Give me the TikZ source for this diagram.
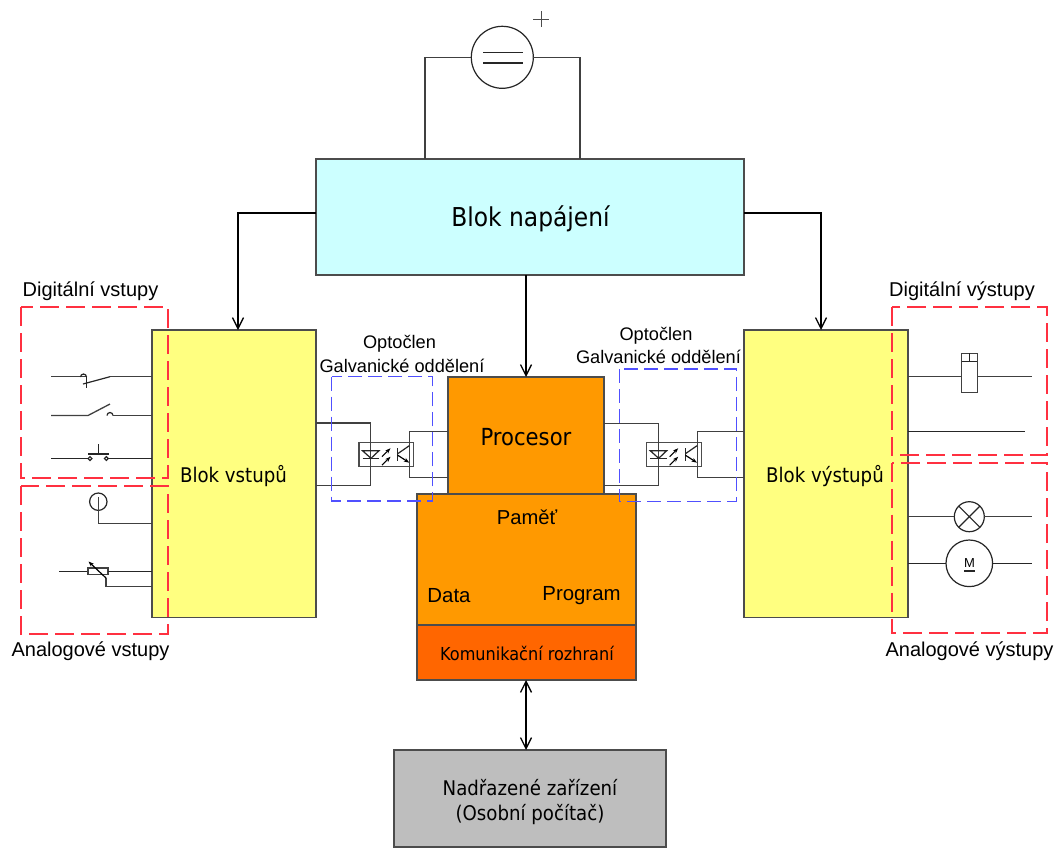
\documentclass[tikz,border=0pt]{standalone}
\usepackage{fontspec}
\setmainfont{Liberation Sans}
\newfontfamily\cond{DejaVu Sans Condensed}
\usetikzlibrary{arrows.meta}
\definecolor{cyanb}{HTML}{CCFFFF}
\definecolor{yelb}{HTML}{FFFF80}
\definecolor{orb}{HTML}{FF9900}
\definecolor{dorb}{HTML}{FF6600}
\definecolor{grb}{HTML}{BEBEBE}
\definecolor{redd}{HTML}{FF3040}
\definecolor{blued}{HTML}{5050FF}
\tikzset{
  x=1pt,y=-1pt,
  wire/.style={draw=black!75,line width=1.3pt},
  thinw/.style={draw=black!85,line width=1.2pt},
  block/.style={draw=black!70,line width=1.4pt,anchor=north west,inner sep=0pt,outer sep=0pt},
  flow/.style={draw=black,line width=1.3pt,-{Straight Barb[length=11pt,width=11pt]}},
  flowb/.style={draw=black,line width=1.3pt,{Straight Barb[length=11pt,width=11pt]}-{Straight Barb[length=11pt,width=11pt]}},
  reddash/.style={draw=redd,line width=1.7pt,dash pattern=on 19pt off 7pt},
  bluedash/.style={draw=blued,line width=1.4pt,dash pattern=on 14pt off 6pt},
  lab/.style={font=\fontsize{20}{24}\selectfont,align=center,inner sep=0pt},
  optolab/.style={font=\fontsize{18.2}{22}\selectfont,inner sep=0pt},
  big/.style={font=\cond\fontsize{26}{32}\selectfont,align=center,inner sep=0pt},
  mid/.style={font=\cond\fontsize{20.2}{26}\selectfont,align=center,inner sep=0pt},
  opto/.style={draw=black!70,line width=1.3pt,anchor=north west,inner sep=0pt,outer sep=0pt,minimum width=54.5pt,minimum height=23.6pt,fill=white},
  tip/.style={-{Stealth[length=5.5pt,width=4pt]},line width=1.1pt},
}
\newcommand{\optosym}[2]{%
  \begin{scope}[shift={(#1,#2)}]
    \draw[thinw] (3.5,8) -- (20,8) -- (12,15.6) -- cycle;
    \draw[thinw] (3.5,15.6) -- (20,15.6);
    \draw[tip] (23,14) -- (31.5,5.5);
    \draw[tip] (23,22.5) -- (31.5,14);
    \draw[line width=1.4pt,black!85] (38.7,5.5) -- (38.7,18);
    \draw[line width=1.2pt,black!85] (38.7,11) -- (50.3,3);
    \draw[tip,line width=1.2pt] (38.7,12.5) -- (50.3,20);
  \end{scope}}
\begin{document}
\begin{tikzpicture}
\useasboundingbox (0,0) rectangle (1056,847);
\fill[white] (0,0) rectangle (1056,847);

% supply
\coordinate (batL) at (425,57.3);
\coordinate (batR) at (580,57.3);
\node[block,fill=cyanb,minimum width=428pt,minimum height=116pt] (nap) at (316,159) {};
\node[big] (naptxt) at (530.5,219) {Blok napájení};
\node[draw=black!85,line width=1.2pt,circle,minimum size=62pt,inner sep=0pt,outer sep=0pt,fill=white] (bat) at (502.3,57.3) {};
\draw[wire] (bat.west) -- (batL) -- (batL |- nap.north);
\draw[wire] (bat.east) -- (batR) -- (batR |- nap.north);
\draw[thinw] (483,52.3) -- (523,52.3) (483,63) -- (523,63);
\draw[draw=black!70,line width=1pt] (533.3,19) -- (549.3,19) (541.3,11) -- (541.3,27);

% blocks
\node[block,fill=yelb,minimum width=164pt,minimum height=287.5pt] (vst) at (152,330) {};
\node[mid] (vsttxt) at (233.5,476) {Blok vstupů};
\node[block,fill=yelb,minimum width=164pt,minimum height=287.5pt] (vys) at (744,330) {};
\node[mid] (vystxt) at (825,476) {Blok výstupů};
\node[block,fill=orb,minimum width=156pt,minimum height=117pt] (proc) at (448,377) {};
\node[font=\cond\fontsize{23.5}{28}\selectfont,inner sep=0pt] (proctxt) at (526,437) {Procesor};
\node[block,fill=orb,minimum width=219pt,minimum height=131pt] (pam) at (417,494) {};
\node[lab,font=\fontsize{20.2}{24}\selectfont] (pamtxt) at (527,517) {Paměť};
\node[lab,font=\fontsize{20.4}{24}\selectfont] (datatxt) at (449,595.5) {Data};
\node[lab,font=\fontsize{20.4}{24}\selectfont] (progtxt) at (581.5,596) {Program};
\node[block,fill=dorb,minimum width=219pt,minimum height=55pt] (kom) at (417,625) {};
\node[font=\cond\fontsize{17.9}{21}\selectfont,inner sep=0pt] (komtxt) at (527,653.5) {Komunikační rozhraní};
\node[block,fill=grb,minimum width=272pt,minimum height=97pt] (nad) at (394,750) {};
\node[big,font=\cond\fontsize{20.2}{25}\selectfont] (nadtxt) at (530,802) {Nadřazené zařízení\\(Osobní počítač)};

% arrows
\coordinate (vstin) at (238,213);
\coordinate (vysin) at (821,213);
\coordinate (procin) at (526,377);
\coordinate (bus) at (526,700);
\draw[flow] (vstin -| nap.west) -- (vstin) -- (vstin |- vst.north);
\draw[flow] (vysin -| nap.east) -- (vysin) -- (vysin |- vys.north);
\draw[flow] (procin |- nap.south) -- (procin);
\draw[flowb] (bus |- kom.south) -- (bus |- nad.north);

% optocoupler left
\node[opto] (ol) at (359,442.7) {};
\coordinate (a1) at (370.5,423); \coordinate (a2) at (370.5,485.5);
\coordinate (b1) at (409.3,431.3); \coordinate (b2) at (409.3,477.7);
\draw[wire] (a1 -| vst.east) -- (a1) -- (a2) -- (a2 -| vst.east);
\draw[wire] (b1 -| proc.west) -- (b1) -- (b2) -- (b2 -| proc.west);
\optosym{359}{442.7}
% optocoupler right
\node[opto] (or) at (646.7,442.7) {};
\coordinate (c1) at (658.5,423.3); \coordinate (c2) at (658.5,485.3);
\coordinate (d1) at (697.3,431.3); \coordinate (d2) at (697.3,477.7);
\draw[wire] (c1 -| proc.east) -- (c1) -- (c2) -- (c2 -| proc.east);
\draw[wire] (d1 -| vys.west) -- (d1) -- (d2) -- (d2 -| vys.west);
\optosym{646.7}{442.7}

% digital inputs
\coordinate (s1) at (51,376.7);
\draw[wire] (s1) -- (87,376.7);
\draw[wire] (110,376.7) -- (110,376.7 -| vst.west);
\draw[thinw] (83,384) -- (110,376.7);
\draw[thinw] (86.5,377) -- (86.5,388);
\draw[thinw] (80.5,377) arc[start angle=180,end angle=360,radius=3] ;
\draw[wire] (51,415.5) -- (88,415.5) -- (110,404);
\draw[thinw] (107,415.5) arc[start angle=180,end angle=360,radius=3];
\draw[wire] (113,415.5) -- (113,415.5 -| vst.west);
\draw[thinw] (51,458.3) -- (88,458.3);
\draw[thinw] (108,458.3) -- (108,458.3 -| vst.west);
\draw[line width=1.4pt,black!85] (88,454) -- (109,454);
\draw[thinw] (98.5,444) -- (98.5,454);
\draw[thinw] (90,458.5) circle[radius=1.9] (106.3,458.5) circle[radius=1.9];

% analog inputs
\draw[thinw] (98.3,501.7) circle[radius=8.7];
\draw[wire] (98.3,497) -- (98.3,523.5) -- (98.3,523.5 -| vst.west);
\draw[thinw] (59,571.3) -- (88,571.3);
\draw[wire,fill=white] (88,568) rectangle (108,574.3);
\draw[thinw] (108,571.3) -- (108,571.3 -| vst.west);
\draw[wire] (106,578) -- (106,586.7) -- (106,586.7 -| vst.west);
\draw[tip,line width=1.2pt] (106,578) -- (88.5,561.5);

% digital outputs
\draw[wire] (vys.east |- 0,376.7) -- (1032,376.7);
\draw[wire,fill=white] (961.7,353.3) rectangle (977.3,392.3);
\draw[thinw] (961.7,361.7) -- (977.3,361.7) (969.5,353.3) -- (969.5,361.7);
\draw[thinw] (vys.east |- 0,431.3) -- (1024.5,431.3);

% analog outputs
\node[draw=black!85,line width=1.2pt,circle,minimum size=30pt,inner sep=0pt,outer sep=0pt] (lamp) at (969.3,516.7) {};
\node[draw=black!85,line width=1.2pt,circle,minimum size=46.6pt,inner sep=0pt,outer sep=0pt] (mot) at (969.3,563.3) {};
\draw[wire] (vys.east |- lamp.west) -- (lamp.west) (lamp.east) -- (1032,516.7);
\draw[thinw] (lamp.45) -- (lamp.225) (lamp.135) -- (lamp.315);
\draw[thinw] (vys.east |- mot.west) -- (mot.west) (mot.east) -- (1032,563.3);
\node[font=\fontsize{13}{15}\selectfont,inner sep=0pt] (mtxt) at (969.5,563) {M};
\draw[line width=1.1pt,black!85] (964,571) -- (975,571);

% dashed frames
\draw[reddash] (20.7,307) rectangle (168,477.7);
\draw[reddash] (20.7,486) rectangle (168,633.7);
\draw[reddash] (892,307) rectangle (1047.3,454.7);
\draw[reddash] (892,462.7) rectangle (1047.3,633.3);
\draw[bluedash] (331.7,376.7) rectangle (432.7,501);
\draw[bluedash] (619.3,369) rectangle (736.3,501.3);

% labels
\node[lab] (l1) at (90.5,291.5) {Digitální vstupy};
\node[lab] (l2) at (90.5,651) {Analogové vstupy};
\node[lab] (l3) at (962,291.5) {Digitální výstupy};
\node[lab] (l4) at (969.5,651) {Analogové výstupy};
\node[optolab] (l5a) at (399.5,344) {Optočlen};
\node[optolab] (l5b) at (402,365.5) {Galvanické oddělení};
\node[optolab] (l6a) at (656,336) {Optočlen};
\node[optolab] (l6b) at (658.5,357) {Galvanické oddělení};
\end{tikzpicture}
\end{document}
